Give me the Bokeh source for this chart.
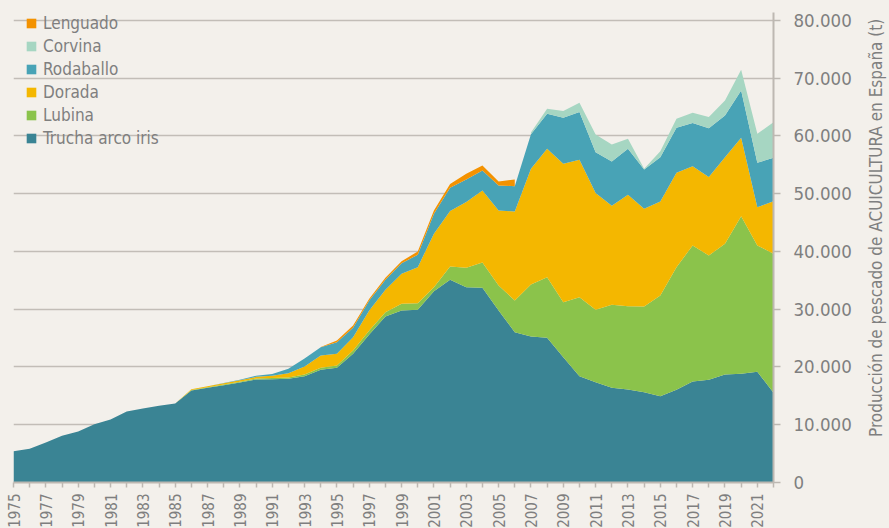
import math
import numpy as np
from bokeh.plotting import figure
from bokeh.layouts import row
from bokeh.core.properties import value
from bokeh.models import Range1d, FixedTicker, CustomJSTickFormatter, Legend, LegendItem
from bokeh.embed import file_html
from bokeh.resources import INLINE

years = list(range(1975, 2023))
trucha = [5400, 5830, 6930, 8080, 8830, 10100, 10900, 12300, 12800, 13300, 13700,
          15930, 16400, 16850, 17300, 17840, 17890, 17960, 18410, 19520, 19870,
          22290, 25630, 28750, 29790, 29910, 33130, 35100, 33830, 33720, 29790,
          26030, 25290, 25060, 21700, 18410, 17370, 16400, 16110, 15640, 14950,
          16050, 17490, 17790, 18700, 18830, 19170, 15540]
lubina = [0] * 11 + [100, 100, 120, 150, 150, 200, 230, 290, 350, 390, 570, 700, 750,
                     1160, 1150, 700, 2310, 3360, 4380, 4330, 5490, 9000, 10500, 9530,
                     13680, 12540, 14380, 14430, 14840, 17440, 21240, 23560, 21530,
                     22640, 27290, 21880, 24070]
dorada = [0] * 11 + [100, 150, 200, 250, 300, 400, 740, 1390, 2130, 2030, 2310, 3460,
                     3870, 5200, 6230, 9250, 9590, 11360, 12470, 12990, 15420, 20040,
                     22240, 23970, 23800, 20200, 17140, 19290, 16930, 16280, 16350,
                     13730, 13560, 15000, 13580, 6630, 9110]
rodaballo = [0] * 12 + [30, 60, 100, 200, 300, 760, 1390, 1430, 2010, 1620, 1710, 1730,
                        1830, 2150, 3460, 4040, 3930, 3470, 4330, 4380, 5970, 6060,
                        7970, 8250, 7090, 7680, 7970, 6800, 7670, 7790, 7450, 8480,
                        7220, 8190, 7690, 7520]
corvina_years = list(range(2007, 2023))
corvina = [300, 860, 1140, 1620, 3070, 2940, 1730, 120, 1040, 1560, 1800, 1910,
           2600, 3590, 5020, 6160]
lenguado_years = list(range(1994, 2007))
lenguado = [50, 290, 400, 300, 350, 350, 560, 560, 660, 990, 860, 690, 1160]

labeled_years = list(range(1975, 2022, 2))
minor_years = list(range(1976, 2023, 2))
y_ticks = list(range(0, 80001, 10000))

names = ["Trucha arco iris", "Lubina", "Dorada", "Rodaballo", "Corvina", "Lenguado"]
colors = ["#3a8494", "#8bc34b", "#f4b700", "#48a3b6", "#a6d6c2", "#f39200"]
y_title = "Producción de pescado de ACUICULTURA en España (t)"

BG = "#f3f0eb"
TXT = "#7f7f7f"
FONT = "DejaVu Sans Condensed"

p = figure(frame_width=760, frame_height=470, output_backend="svg", toolbar_location=None,
           x_range=Range1d(1975, 2022), y_range=Range1d(0, 81385),
           y_axis_location="right",
           min_border_left=13, min_border_top=12, min_border_right=89, min_border_bottom=30)
p.background_fill_color = BG
p.border_fill_color = BG
p.outline_line_color = None

yrs = np.array(years, dtype=float)
t = np.array(trucha, dtype=float)
l1 = t + np.array(lubina)
d1 = l1 + np.array(dorada)
r1 = d1 + np.array(rodaballo)

rs = []
rs.append(p.varea(x=yrs, y1=np.zeros_like(t), y2=t, fill_color=colors[0]))
rs.append(p.varea(x=yrs, y1=t, y2=l1, fill_color=colors[1]))
rs.append(p.varea(x=yrs, y1=l1, y2=d1, fill_color=colors[2]))
rs.append(p.varea(x=yrs, y1=d1, y2=r1, fill_color=colors[3]))

cidx = [years.index(y) for y in corvina_years]
cb = r1[cidx]
rs.append(p.varea(x=corvina_years, y1=cb, y2=cb + np.array(corvina), fill_color=colors[4]))
lidx = [years.index(y) for y in lenguado_years]
lb = r1[lidx]
rs.append(p.varea(x=lenguado_years, y1=lb, y2=lb + np.array(lenguado), fill_color=colors[5]))

# grid
p.xgrid.grid_line_color = None
p.ygrid.grid_line_color = "#c2bdb7"
p.ygrid.grid_line_width = 1.5
p.ygrid.ticker = FixedTicker(ticks=y_ticks)
p.ygrid.level = "underlay"

# x axis
xa = p.xaxis[0]
xa.ticker = FixedTicker(ticks=labeled_years, minor_ticks=minor_years)
xa.major_label_orientation = math.pi / 2
xa.major_label_text_font = FONT
xa.major_label_text_font_size = "15px"
xa.major_label_text_color = TXT
xa.major_label_standoff = 6
xa.axis_line_color = "#bdb8b2"
xa.axis_line_width = 2
xa.major_tick_line_color = "#bdb8b2"
xa.minor_tick_line_color = "#bdb8b2"
xa.major_tick_line_width = 1.5
xa.minor_tick_line_width = 1.5
xa.major_tick_in = 0
xa.major_tick_out = 5
xa.minor_tick_in = 0
xa.minor_tick_out = 5

# y axis (right)
ya = p.yaxis[0]
ya.ticker = FixedTicker(ticks=y_ticks)
ya.formatter = CustomJSTickFormatter(
    code="return Math.round(tick).toString().replace(/\\B(?=(\\d{3})+(?!\\d))/g, '.');")
ya.major_label_text_font = FONT
ya.major_label_text_font_size = "18.5px"
ya.major_label_text_color = TXT
ya.major_label_standoff = 13
ya.axis_line_color = "#bdb8b2"
ya.axis_line_width = 2
ya.major_tick_line_color = "#bdb8b2"
ya.major_tick_line_width = 1.5
ya.major_tick_in = 0
ya.major_tick_out = 7
ya.minor_tick_line_color = None

# legend
order = [5, 4, 3, 2, 1, 0]
items = [LegendItem(label=names[i], renderers=[rs[i]]) for i in order]
legend = Legend(items=items, location=(12, 334), orientation="vertical",
                background_fill_alpha=0, border_line_color=None,
                glyph_width=12, glyph_height=12, label_height=21, spacing=2,
                padding=0, margin=0, label_standoff=6,
                label_text_font=FONT, label_text_font_size="17px",
                label_text_color=TXT)
p.add_layout(legend, "center")

# side strip holding the rotated y-axis title (reads bottom to top)
H2 = 528
p2 = figure(width=27, height=H2, output_backend="svg", toolbar_location=None,
            x_range=Range1d(0, 1), y_range=Range1d(0, H2),
            x_axis_type=None, y_axis_type=None, min_border=0)
p2.background_fill_color = BG
p2.border_fill_color = BG
p2.outline_line_color = None
p2.xgrid.visible = False
p2.ygrid.visible = False
p2.text(x=[0.5], y=[H2 - 243], text=[y_title], angle=math.pi / 2,
        text_align="center", text_baseline="middle",
        text_font=value(FONT), text_font_size="17px", text_color=TXT)

layout = row(p, p2, spacing=0)
html = file_html(layout, INLINE)
html = html.replace("<head>", "<head><style>html,body{background:%s;overflow:hidden;}</style>" % BG, 1)
open("out.html", "w").write(html)
